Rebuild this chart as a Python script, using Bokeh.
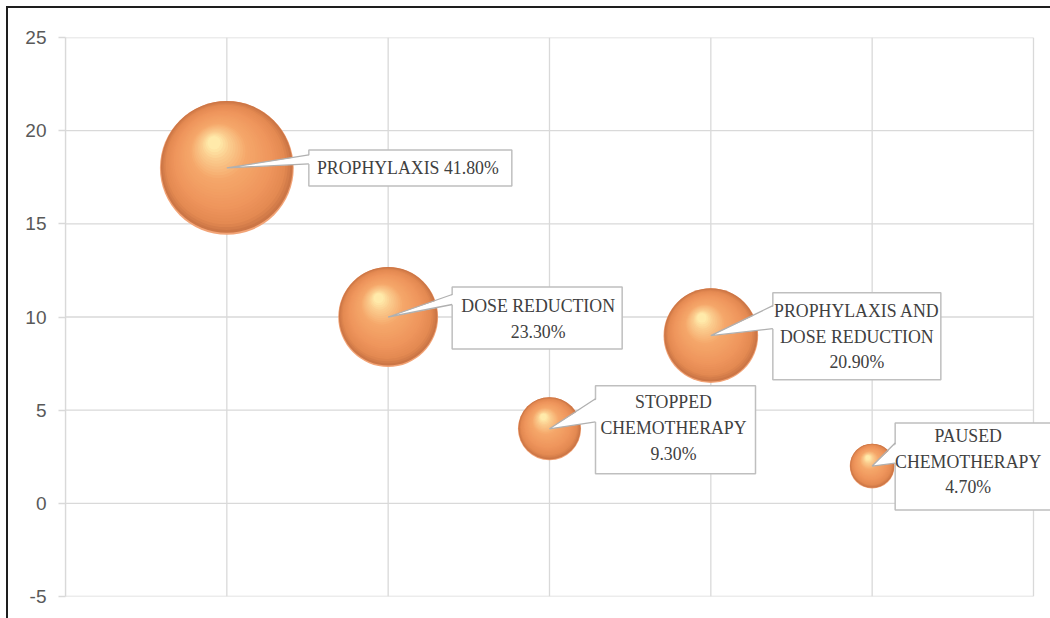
import numpy as np
from bokeh.plotting import figure
from bokeh.models import Range1d, FixedTicker, ColumnDataSource, PrintfTickFormatter
from bokeh.core.properties import value
from bokeh.embed import file_html
from bokeh.resources import INLINE

# ---------------- data ----------------
categories = ["PROPHYLAXIS", "DOSE REDUCTION", "STOPPED CHEMOTHERAPY",
              "PROPHYLAXIS AND DOSE REDUCTION", "PAUSED CHEMOTHERAPY"]
x_pos = [1, 2, 3, 4, 5]
counts = [18, 10, 4, 9, 2]
percents = [41.8, 23.3, 9.3, 20.9, 4.7]
y_ticks = [-5, 0, 5, 10, 15, 20, 25]
x_grid = [0, 1, 2, 3, 4, 5, 6]

# display wrapping of the category names in the callouts
label_lines = [["PROPHYLAXIS"], ["DOSE REDUCTION"], ["STOPPED", "CHEMOTHERAPY"],
               ["PROPHYLAXIS AND", "DOSE REDUCTION"], ["PAUSED", "CHEMOTHERAPY"]]
pct_same_line = [True, False, False, False, False]

# ---------------- layout (screen px) ----------------
W, H = 1042, 610
B_LEFT, B_RIGHT, B_TOP, B_BOTTOM = 57, 0, 29, 22
FW = W - B_LEFT - B_RIGHT
FH = H - B_TOP - B_BOTTOM
X0, X1 = 0.0, 6.0 * FW / 968.0
Y0, Y1 = -5.0, 25.0
PX_X = FW / (X1 - X0)
PX_Y = FH / (Y1 - Y0)
R_SCALE = 10.35  # px radius per sqrt(percent)

# callout geometry relative to bubble centre (px, +x right, +y down)
box_l = [82, 64, 46, 62, 23]
box_r = [285, 234, 206, 230, 190]
box_t = [-18, -30, -43, -43, -43]
box_b = [18, 32, 45, 44, 44]
wedge_a = [-13, -22.5, -30, -30, -23]
wedge_b = [-4, -12.5, -7, -7, -3]
text_dx = [181, 150, 124, 146, 96]
text_dy = [0, 2, -1, 1, -4.5]

GRID = "#D9D9D9"

p = figure(width=W, height=H, output_backend="svg", toolbar_location=None,
           x_axis_location=None, y_axis_location="left",
           x_range=Range1d(X0, X1), y_range=Range1d(Y0, Y1),
           min_border_left=B_LEFT, min_border_right=B_RIGHT,
           min_border_top=B_TOP, min_border_bottom=B_BOTTOM,
           background_fill_color="white", border_fill_color="white")
p.outline_line_color = None
p.grid.visible = False
p.styles = {"margin-left": "8px", "margin-top": "8px",
            "outline": "2px solid #1e1e1e", "outline-offset": "0px"}

# grid lines
p.segment(x0=[X0] * len(y_ticks), y0=y_ticks, x1=[x_grid[-1]] * len(y_ticks), y1=y_ticks,
          line_color=GRID, line_width=1.3)
p.segment(x0=x_grid, y0=[Y0] * len(x_grid), x1=x_grid, y1=[Y1] * len(x_grid),
          line_color=GRID, line_width=1.3)

ax = p.yaxis[0]
ax.ticker = FixedTicker(ticks=y_ticks)
ax.formatter = PrintfTickFormatter(format="%d")
ax.axis_line_color = GRID
ax.axis_line_width = 1.3
ax.major_tick_line_color = GRID
ax.major_tick_line_width = 1.3
ax.major_tick_out = 7
ax.major_tick_in = 0
ax.minor_tick_line_color = None
ax.major_label_text_font = "Liberation Sans"
ax.major_label_text_font_size = "19px"
ax.major_label_text_color = "#595959"
ax.major_label_standoff = 12

# ---------------- bubbles (layered shading) ----------------
stops = [(0.00, (204, 118, 70)), (0.10, (228, 138, 82)), (0.30, (239, 150, 93)),
         (0.62, (245, 167, 106)), (0.86, (251, 204, 142)), (1.00, (255, 234, 170))]


def grad(t):
    for (t0, c0), (t1, c1) in zip(stops[:-1], stops[1:]):
        if t <= t1:
            f = (t - t0) / (t1 - t0) if t1 > t0 else 0
            return "#%02x%02x%02x" % tuple(int(round(a + (b - a) * f)) for a, b in zip(c0, c1))
    return "#%02x%02x%02x" % stops[-1][1]


bx, by, bs, bc = [], [], [], []
N = 30
for xi, yi, pc in zip(x_pos, counts, percents):
    R = R_SCALE * np.sqrt(pc)
    # light bottom rim (reflection)
    bx.append(xi); by.append(yi); bs.append(2 * R); bc.append("#F2A477")
    R0 = 0.985 * R
    cx, cy = xi, yi + 0.015 * R / PX_Y
    hx, hy = -0.19 * R / PX_X, 0.36 * R / PX_Y
    for k in range(N):
        t = k / (N - 1)
        bx.append(cx + t * hx)
        by.append(cy + t * hy)
        bs.append(2 * R0 * (1 - 0.9 * t))
        bc.append(grad(t))

src = ColumnDataSource(dict(x=bx, y=by, s=bs, c=bc))
p.scatter(x="x", y="y", size="s", fill_color="c", line_color=None, source=src)

# ---------------- callouts ----------------
ql, qr, qt, qb = [], [], [], []
wxs, wys, lxs, lys = [], [], [], []
texts = []
for i, (xi, yi, pc) in enumerate(zip(x_pos, counts, percents)):
    ql.append(xi + box_l[i] / PX_X)
    qr.append(xi + box_r[i] / PX_X)
    qt.append(yi - box_t[i] / PX_Y)
    qb.append(yi - box_b[i] / PX_Y)
    bxl = xi + box_l[i] / PX_X
    bxl2 = xi + (box_l[i] + 2) / PX_X
    ya = yi - wedge_a[i] / PX_Y
    yb = yi - wedge_b[i] / PX_Y
    wxs.append([xi, bxl2, bxl2])
    wys.append([yi, ya, yb])
    lxs.append([bxl, xi, bxl])
    lys.append([ya, yi, yb])
    pct = "%.2f%%" % pc
    sep = " " if pct_same_line[i] else "\n"
    texts.append("\n".join(label_lines[i]) + sep + pct)

p.quad(left=ql, right=qr, top=qt, bottom=qb, fill_color="white",
       line_color="#BFBFBF", line_width=1.5)
p.patches(xs=wxs, ys=wys, fill_color="white", line_color=None)
p.multi_line(xs=lxs, ys=lys, line_color="#B0B0B0", line_width=1.3)

p.text(x=x_pos, y=counts, text=texts,
       x_offset=text_dx, y_offset=text_dy,
       text_align="center", text_baseline="middle",
       text_font=value("Liberation Serif"), text_font_size="17.8px",
       text_color="#404040", text_line_height=1.29)

open("out.html", "w").write(file_html(p, INLINE))
